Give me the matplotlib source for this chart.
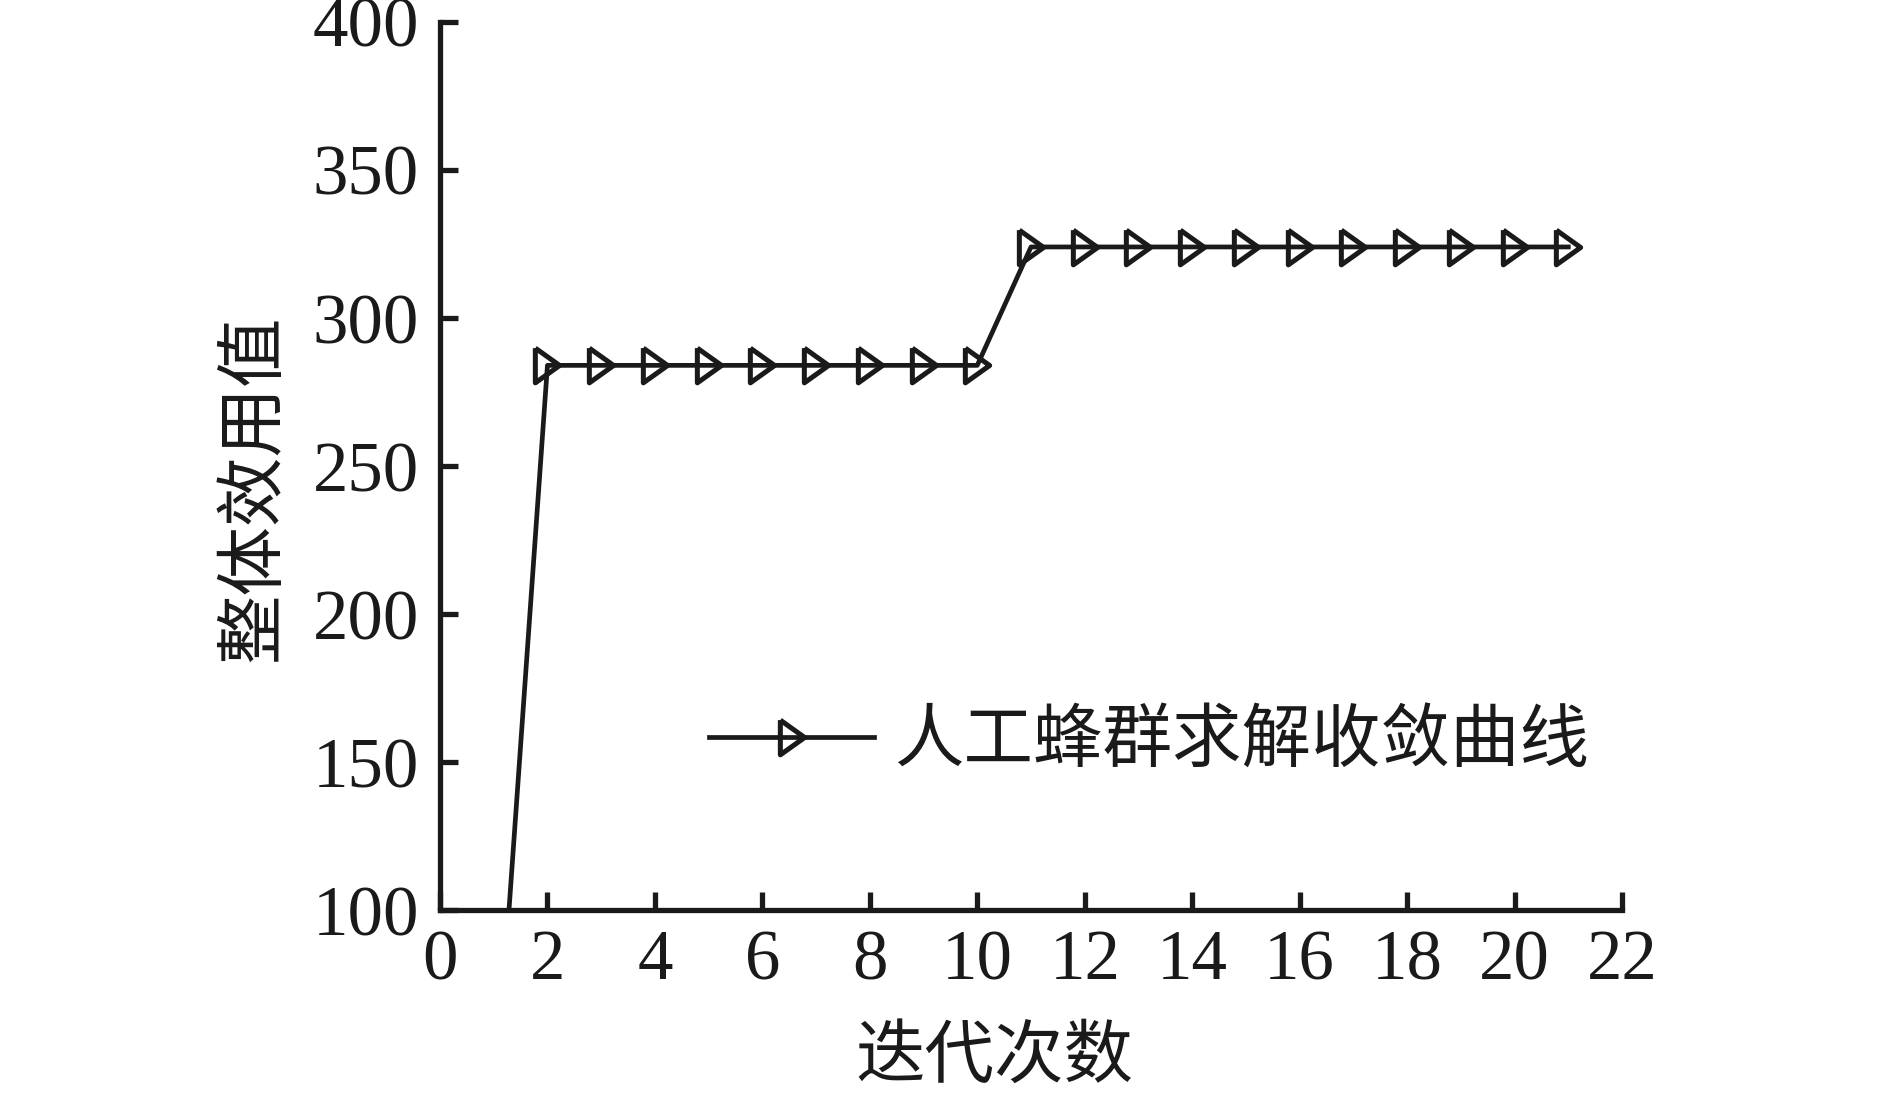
import matplotlib
matplotlib.use("Agg")
import matplotlib.pyplot as plt
import numpy as np

# data
iterations = list(range(1, 22))
utility = [27] + [284] * 9 + [324] * 11
x_ticks = list(range(0, 23, 2))
y_ticks = [100, 150, 200, 250, 300, 350, 400]
legend_label = "人工蜂群求解收敛曲线"
x_label = "迭代次数"
y_label = "整体效用值"

plt.rcParams['font.family'] = ['Liberation Serif', 'Noto Sans CJK SC']
cjk = ['Noto Sans CJK SC', 'DejaVu Sans']

fig = plt.figure(figsize=(18.89, 10.93), dpi=100)
ax = fig.add_axes([440/1889, 1 - 910/1093, (1622-440)/1889, (910-22)/1093])

tri = [(-0.7, 1.0), (-0.7, -1.0), (0.7, 0.0), (-0.7, 1.0)]
ax.plot(iterations, utility, color='#1a1a1a', lw=3.4, marker=tri, ms=25,
        mfc='none', mec='#1a1a1a', mew=3.6, label=legend_label)

ax.set_xlim(0, 22)
ax.set_ylim(100, 400)
ax.set_xticks(x_ticks)
ax.set_yticks(y_ticks)
for s in ['top', 'right']:
    ax.spines[s].set_visible(False)
for s in ['left', 'bottom']:
    ax.spines[s].set_linewidth(3.8)
    ax.spines[s].set_color('#1a1a1a')
ax.tick_params(axis='both', direction='in', length=13, width=3.8, color='#1a1a1a',
               labelsize=51, labelcolor='#1a1a1a')
ax.tick_params(axis='x', pad=14)
ax.tick_params(axis='y', pad=15)

ax.set_xlabel(x_label, fontsize=50, family=cjk, color='#1a1a1a', weight='light')
ax.xaxis.label.set_va('center')
ax.xaxis.set_label_coords(0.469, -0.166)
ax.set_ylabel(y_label, fontsize=50, family=cjk, color='#1a1a1a', weight='light')
ax.yaxis.label.set_va('center')
ax.yaxis.set_label_coords(-0.158, 0.475)

leg = ax.legend(loc='center left', bbox_to_anchor=(0.228, 0.19), frameon=False,
                borderpad=0, borderaxespad=0, handlelength=2.37, handletextpad=0.29,
                numpoints=1, prop={'family': cjk, 'size': 50, 'weight': 'light'})
for t in leg.get_texts():
    t.set_color('#1a1a1a')

fig.savefig('out.png', dpi=100)
